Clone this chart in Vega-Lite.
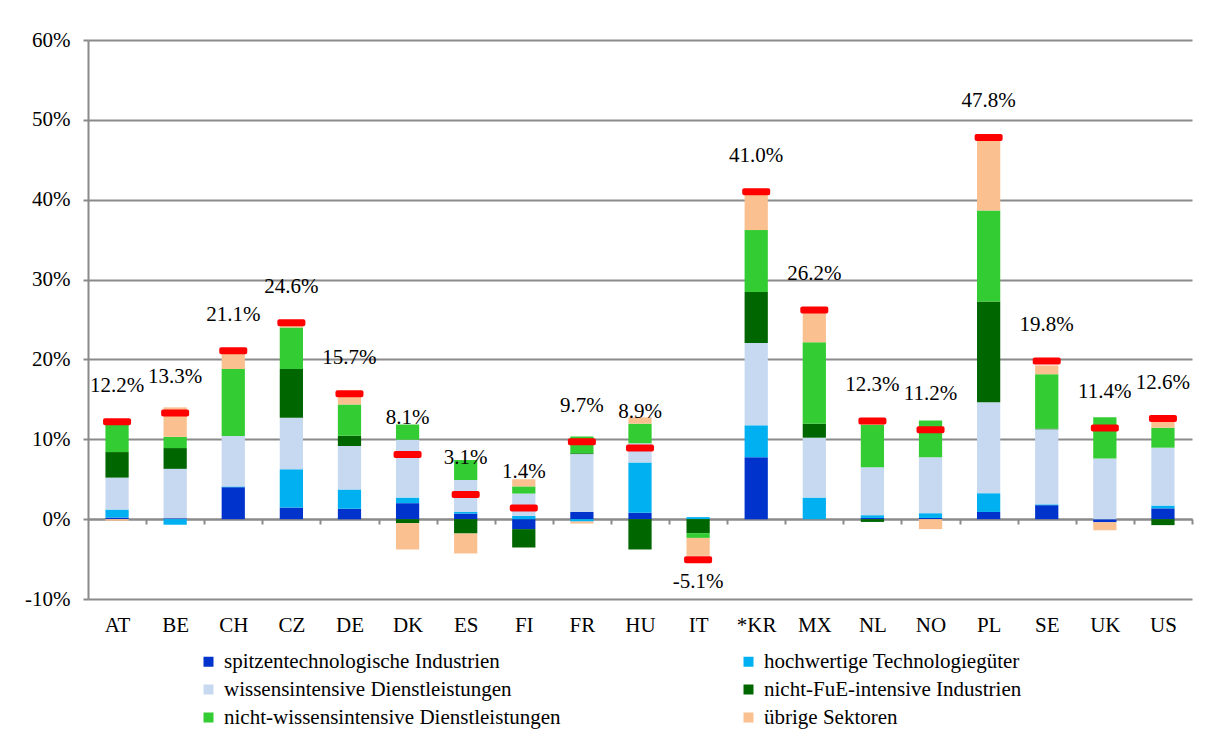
{
  "$schema": "https://vega.github.io/schema/vega-lite/v6.json",
  "width": 1104,
  "height": 559,
  "autosize": {"type": "none"},
  "padding": {"left": 88, "top": 40, "right": 23, "bottom": 136},
  "background": "white",
  "config": {
    "font": "'Liberation Serif', 'DejaVu Serif', serif",
    "view": {"stroke": null},
    "text": {"font": "'Liberation Serif', 'DejaVu Serif', serif"},
    "axis": {
      "labelFont": "'Liberation Serif', 'DejaVu Serif', serif",
      "labelFontSize": 21,
      "labelColor": "black",
      "domainColor": "#8a8a8a",
      "gridColor": "#8a8a8a",
      "tickColor": "#8a8a8a",
      "domainWidth": 2,
      "gridWidth": 2,
      "tickWidth": 2,
      "title": null
    },
    "legend": {
      "orient": "none",
      "direction": "horizontal",
      "legendX": 110,
      "legendY": 611,
      "columns": 2,
      "columnPadding": 177,
      "rowPadding": 6,
      "symbolType": "square",
      "symbolSize": 100,
      "symbolStrokeWidth": 0,
      "labelFont": "'Liberation Serif', 'DejaVu Serif', serif",
      "labelFontSize": 21,
      "labelColor": "black",
      "labelLimit": 0,
      "labelOffset": 5,
      "padding": 0
    }
  },
  "datasets": {
    "parts": [
      {"country": "AT", "sector": "spitzentechnologische Industrien", "value": 0.2},
      {"country": "AT", "sector": "hochwertige Technologiegüter", "value": 1.0},
      {"country": "AT", "sector": "wissensintensive Dienstleistungen", "value": 4.0},
      {"country": "AT", "sector": "nicht-FuE-intensive Industrien", "value": 3.2},
      {"country": "AT", "sector": "nicht-wissensintensive Dienstleistungen", "value": 3.4},
      {"country": "AT", "sector": "übrige Sektoren", "value": -0.2},
      {"country": "BE", "sector": "spitzentechnologische Industrien", "value": 0.1},
      {"country": "BE", "sector": "hochwertige Technologiegüter", "value": -0.7},
      {"country": "BE", "sector": "wissensintensive Dienstleistungen", "value": 6.2},
      {"country": "BE", "sector": "nicht-FuE-intensive Industrien", "value": 2.6},
      {"country": "BE", "sector": "nicht-wissensintensive Dienstleistungen", "value": 1.4},
      {"country": "BE", "sector": "übrige Sektoren", "value": 3.7},
      {"country": "CH", "sector": "spitzentechnologische Industrien", "value": 4.0},
      {"country": "CH", "sector": "hochwertige Technologiegüter", "value": 0.1},
      {"country": "CH", "sector": "wissensintensive Dienstleistungen", "value": 6.3},
      {"country": "CH", "sector": "nicht-wissensintensive Dienstleistungen", "value": 8.4},
      {"country": "CH", "sector": "übrige Sektoren", "value": 2.2},
      {"country": "CZ", "sector": "spitzentechnologische Industrien", "value": 1.45},
      {"country": "CZ", "sector": "hochwertige Technologiegüter", "value": 4.8},
      {"country": "CZ", "sector": "wissensintensive Dienstleistungen", "value": 6.45},
      {"country": "CZ", "sector": "nicht-FuE-intensive Industrien", "value": 6.1},
      {"country": "CZ", "sector": "nicht-wissensintensive Dienstleistungen", "value": 5.2},
      {"country": "CZ", "sector": "übrige Sektoren", "value": 0.6},
      {"country": "DE", "sector": "spitzentechnologische Industrien", "value": 1.3},
      {"country": "DE", "sector": "hochwertige Technologiegüter", "value": 2.4},
      {"country": "DE", "sector": "wissensintensive Dienstleistungen", "value": 5.45},
      {"country": "DE", "sector": "nicht-FuE-intensive Industrien", "value": 1.3},
      {"country": "DE", "sector": "nicht-wissensintensive Dienstleistungen", "value": 3.9},
      {"country": "DE", "sector": "übrige Sektoren", "value": 1.3},
      {"country": "DK", "sector": "spitzentechnologische Industrien", "value": 2.0},
      {"country": "DK", "sector": "hochwertige Technologiegüter", "value": 0.7},
      {"country": "DK", "sector": "wissensintensive Dienstleistungen", "value": 7.25},
      {"country": "DK", "sector": "nicht-FuE-intensive Industrien", "value": -0.5},
      {"country": "DK", "sector": "nicht-wissensintensive Dienstleistungen", "value": 1.9},
      {"country": "DK", "sector": "übrige Sektoren", "value": -3.3},
      {"country": "ES", "sector": "spitzentechnologische Industrien", "value": 0.7},
      {"country": "ES", "sector": "hochwertige Technologiegüter", "value": 0.2},
      {"country": "ES", "sector": "wissensintensive Dienstleistungen", "value": 4.0},
      {"country": "ES", "sector": "nicht-FuE-intensive Industrien", "value": -1.8},
      {"country": "ES", "sector": "nicht-wissensintensive Dienstleistungen", "value": 2.5},
      {"country": "ES", "sector": "übrige Sektoren", "value": -2.5},
      {"country": "FI", "sector": "spitzentechnologische Industrien", "value": -1.25},
      {"country": "FI", "sector": "hochwertige Technologiegüter", "value": 0.4},
      {"country": "FI", "sector": "wissensintensive Dienstleistungen", "value": 2.8},
      {"country": "FI", "sector": "nicht-FuE-intensive Industrien", "value": -2.3},
      {"country": "FI", "sector": "nicht-wissensintensive Dienstleistungen", "value": 0.9},
      {"country": "FI", "sector": "übrige Sektoren", "value": 0.9},
      {"country": "FR", "sector": "spitzentechnologische Industrien", "value": 0.9},
      {"country": "FR", "sector": "hochwertige Technologiegüter", "value": -0.3},
      {"country": "FR", "sector": "wissensintensive Dienstleistungen", "value": 7.25},
      {"country": "FR", "sector": "nicht-FuE-intensive Industrien", "value": 0.1},
      {"country": "FR", "sector": "nicht-wissensintensive Dienstleistungen", "value": 2.1},
      {"country": "FR", "sector": "übrige Sektoren", "value": -0.25},
      {"country": "HU", "sector": "spitzentechnologische Industrien", "value": 0.8},
      {"country": "HU", "sector": "hochwertige Technologiegüter", "value": 6.3},
      {"country": "HU", "sector": "wissensintensive Dienstleistungen", "value": 2.4},
      {"country": "HU", "sector": "nicht-FuE-intensive Industrien", "value": -3.8},
      {"country": "HU", "sector": "nicht-wissensintensive Dienstleistungen", "value": 2.45},
      {"country": "HU", "sector": "übrige Sektoren", "value": 0.8},
      {"country": "IT", "sector": "hochwertige Technologiegüter", "value": 0.25},
      {"country": "IT", "sector": "nicht-FuE-intensive Industrien", "value": -1.75},
      {"country": "IT", "sector": "nicht-wissensintensive Dienstleistungen", "value": -0.6},
      {"country": "IT", "sector": "übrige Sektoren", "value": -2.25},
      {"country": "*KR", "sector": "spitzentechnologische Industrien", "value": 7.75},
      {"country": "*KR", "sector": "hochwertige Technologiegüter", "value": 4.0},
      {"country": "*KR", "sector": "wissensintensive Dienstleistungen", "value": 10.3},
      {"country": "*KR", "sector": "nicht-FuE-intensive Industrien", "value": 6.4},
      {"country": "*KR", "sector": "nicht-wissensintensive Dienstleistungen", "value": 7.75},
      {"country": "*KR", "sector": "übrige Sektoren", "value": 4.6},
      {"country": "MX", "sector": "hochwertige Technologiegüter", "value": 2.7},
      {"country": "MX", "sector": "wissensintensive Dienstleistungen", "value": 7.5},
      {"country": "MX", "sector": "nicht-FuE-intensive Industrien", "value": 1.75},
      {"country": "MX", "sector": "nicht-wissensintensive Dienstleistungen", "value": 10.2},
      {"country": "MX", "sector": "übrige Sektoren", "value": 3.8},
      {"country": "NL", "sector": "spitzentechnologische Industrien", "value": 0.15},
      {"country": "NL", "sector": "hochwertige Technologiegüter", "value": 0.35},
      {"country": "NL", "sector": "wissensintensive Dienstleistungen", "value": 6.0},
      {"country": "NL", "sector": "nicht-FuE-intensive Industrien", "value": -0.35},
      {"country": "NL", "sector": "nicht-wissensintensive Dienstleistungen", "value": 5.3},
      {"country": "NL", "sector": "übrige Sektoren", "value": 0.4},
      {"country": "NO", "sector": "spitzentechnologische Industrien", "value": 0.15},
      {"country": "NO", "sector": "hochwertige Technologiegüter", "value": 0.6},
      {"country": "NO", "sector": "wissensintensive Dienstleistungen", "value": 7.0},
      {"country": "NO", "sector": "nicht-wissensintensive Dienstleistungen", "value": 4.6},
      {"country": "NO", "sector": "übrige Sektoren", "value": -1.25},
      {"country": "PL", "sector": "spitzentechnologische Industrien", "value": 0.9},
      {"country": "PL", "sector": "hochwertige Technologiegüter", "value": 2.35},
      {"country": "PL", "sector": "wissensintensive Dienstleistungen", "value": 11.4},
      {"country": "PL", "sector": "nicht-FuE-intensive Industrien", "value": 12.6},
      {"country": "PL", "sector": "nicht-wissensintensive Dienstleistungen", "value": 11.4},
      {"country": "PL", "sector": "übrige Sektoren", "value": 8.8},
      {"country": "SE", "sector": "spitzentechnologische Industrien", "value": 1.75},
      {"country": "SE", "sector": "hochwertige Technologiegüter", "value": 0.1},
      {"country": "SE", "sector": "wissensintensive Dienstleistungen", "value": 9.4},
      {"country": "SE", "sector": "nicht-FuE-intensive Industrien", "value": 0.1},
      {"country": "SE", "sector": "nicht-wissensintensive Dienstleistungen", "value": 6.8},
      {"country": "SE", "sector": "übrige Sektoren", "value": 1.1},
      {"country": "UK", "sector": "spitzentechnologische Industrien", "value": -0.4},
      {"country": "UK", "sector": "wissensintensive Dienstleistungen", "value": 7.6},
      {"country": "UK", "sector": "nicht-wissensintensive Dienstleistungen", "value": 5.15},
      {"country": "UK", "sector": "übrige Sektoren", "value": -1.0},
      {"country": "US", "sector": "spitzentechnologische Industrien", "value": 1.35},
      {"country": "US", "sector": "hochwertige Technologiegüter", "value": 0.35},
      {"country": "US", "sector": "wissensintensive Dienstleistungen", "value": 7.25},
      {"country": "US", "sector": "nicht-FuE-intensive Industrien", "value": -0.75},
      {"country": "US", "sector": "nicht-wissensintensive Dienstleistungen", "value": 2.5},
      {"country": "US", "sector": "übrige Sektoren", "value": 1.4}
    ],
    "totals": [
      {"country": "AT", "total": 12.2},
      {"country": "BE", "total": 13.3},
      {"country": "CH", "total": 21.1},
      {"country": "CZ", "total": 24.6},
      {"country": "DE", "total": 15.7},
      {"country": "DK", "total": 8.1},
      {"country": "ES", "total": 3.1},
      {"country": "FI", "total": 1.4},
      {"country": "FR", "total": 9.7},
      {"country": "HU", "total": 8.9},
      {"country": "IT", "total": -5.1},
      {"country": "*KR", "total": 41.0},
      {"country": "MX", "total": 26.2},
      {"country": "NL", "total": 12.3},
      {"country": "NO", "total": 11.2},
      {"country": "PL", "total": 47.8},
      {"country": "SE", "total": 19.8},
      {"country": "UK", "total": 11.4},
      {"country": "US", "total": 12.6}
    ]
  },
  "layer": [
    {
      "data": {"name": "parts"},
      "transform": [
        {"calculate": "indexof(['spitzentechnologische Industrien','hochwertige Technologiegüter','wissensintensive Dienstleistungen','nicht-FuE-intensive Industrien','nicht-wissensintensive Dienstleistungen','übrige Sektoren'], datum.sector)", "as": "rank"}
      ],
      "mark": {"type": "bar"},
      "encoding": {
        "x": {
          "field": "country", "type": "nominal",
          "sort": ["AT","BE","CH","CZ","DE","DK","ES","FI","FR","HU","IT","*KR","MX","NL","NO","PL","SE","UK","US"],
          "scale": {"paddingInner": 0.6, "paddingOuter": 0.3},
          "axis": {
            "orient": "bottom",
            "offset": -80,
            "domain": true,
            "ticks": true,
            "tickSize": 5,
            "tickOffset": 29.05,
            "labelOffset": -29.05,
            "labelPadding": 90,
            "labelAngle": 0,
            "labelBaseline": "top",
            "grid": false
          }
        },
        "y": {
          "field": "value", "type": "quantitative", "stack": "zero",
          "scale": {"domain": [-10, 60], "nice": false, "zero": false},
          "axis": {
            "values": [-10, 0, 10, 20, 30, 40, 50, 60],
            "labelExpr": "datum.value + '%'",
            "grid": true,
            "domain": true,
            "ticks": true,
            "tickSize": 5,
            "labelPadding": 13
          }
        },
        "color": {
          "field": "sector", "type": "nominal",
          "scale": {
            "domain": ["spitzentechnologische Industrien","hochwertige Technologiegüter","wissensintensive Dienstleistungen","nicht-FuE-intensive Industrien","nicht-wissensintensive Dienstleistungen","übrige Sektoren"],
            "range": ["#0033CC","#00B0F0","#C6D9F1","#006600","#33CC33","#FAC090"]
          },
          "legend": {"title": null, "direction": "horizontal", "columns": 2}
        },
        "order": {"field": "rank", "type": "quantitative"}
      }
    },
    {
      "data": {"name": "totals"},
      "mark": {"type": "tick", "color": "#FF0000", "thickness": 7, "size": 28, "cornerRadius": 2, "opacity": 1},
      "encoding": {
        "x": {"field": "country", "type": "nominal", "sort": ["AT","BE","CH","CZ","DE","DK","ES","FI","FR","HU","IT","*KR","MX","NL","NO","PL","SE","UK","US"]},
        "y": {"field": "total", "type": "quantitative"}
      }
    },
    {
      "data": {"name": "totals"},
      "transform": [
        {"filter": "datum.total >= 0"},
        {"calculate": "format(datum.total, '.1f') + '%'", "as": "label"}
      ],
      "mark": {"type": "text", "dy": -36, "fontSize": 21, "font": "'Liberation Serif', 'DejaVu Serif', serif", "color": "black", "baseline": "middle", "align": "center"},
      "encoding": {
        "x": {"field": "country", "type": "nominal", "sort": ["AT","BE","CH","CZ","DE","DK","ES","FI","FR","HU","IT","*KR","MX","NL","NO","PL","SE","UK","US"]},
        "y": {"field": "total", "type": "quantitative"},
        "text": {"field": "label"}
      }
    },
    {
      "data": {"name": "totals"},
      "transform": [
        {"filter": "datum.total < 0"},
        {"calculate": "'-' + format(-datum.total, '.1f') + '%'", "as": "label"}
      ],
      "mark": {"type": "text", "dy": 22, "fontSize": 21, "font": "'Liberation Serif', 'DejaVu Serif', serif", "color": "black", "baseline": "middle", "align": "center"},
      "encoding": {
        "x": {"field": "country", "type": "nominal", "sort": ["AT","BE","CH","CZ","DE","DK","ES","FI","FR","HU","IT","*KR","MX","NL","NO","PL","SE","UK","US"]},
        "y": {"field": "total", "type": "quantitative"},
        "text": {"field": "label"}
      }
    }
  ]
}
